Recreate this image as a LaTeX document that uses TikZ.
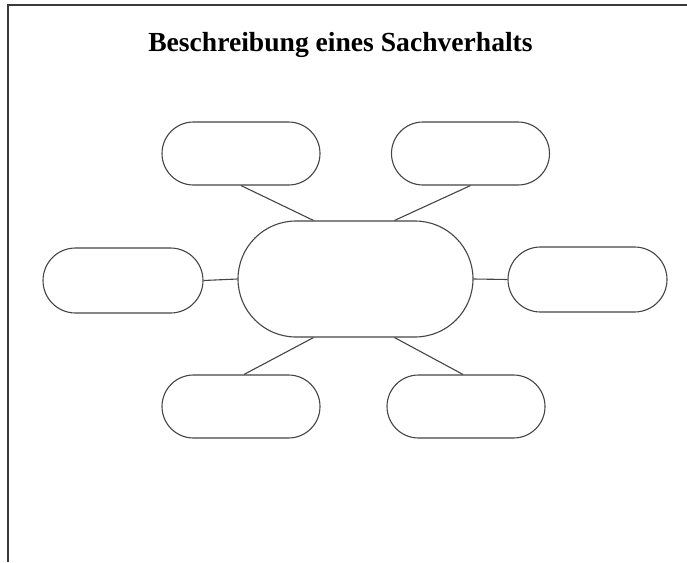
\documentclass[tikz,border=0pt]{standalone}
\usepackage{fontspec}
\setmainfont{Liberation Serif}
\definecolor{ink}{HTML}{444444}
\definecolor{framegray}{HTML}{3A3A3A}
\begin{document}
\begin{tikzpicture}[x=1pt, y=-1pt,
  bubble/.style={draw=ink, line width=1.1pt, rectangle, rounded corners=31.5pt,
    minimum width=158pt, minimum height=63pt, inner sep=0pt},
  hub/.style={draw=ink, line width=1.1pt, rectangle, rounded corners=58pt,
    minimum width=235pt, minimum height=116pt, inner sep=0pt},
  link/.style={draw=ink, line width=1.1pt}]
\useasboundingbox (0,0) rectangle (687,562);
\draw [framegray, line width=2pt] (687,5) -- (8,5) -- (8,562);
\node [anchor=base] (title) at (340.5,51)
  {\fontsize{27.6}{32}\selectfont\bfseries Beschreibung eines Sachverhalts};
\node [hub] (center) at (355.5,279) {};
\node [bubble] (topleft) at (241,153.5) {};
\node [bubble] (topright) at (470.5,153.5) {};
\node [bubble, minimum width=160pt, minimum height=65pt, rounded corners=32.5pt] (left) at (123,280.5) {};
\node [bubble, minimum width=159pt, minimum height=65pt, rounded corners=32.5pt] (right) at (587.5,279.5) {};
\node [bubble] (botleft) at (241,406.5) {};
\node [bubble] (botright) at (466,406.5) {};
\draw [link] (topleft.south) -- ([xshift=-42pt]center.north);
\draw [link] (topright.south) -- ([xshift=39pt]center.north);
\draw [link] (left.east) -- (center.west);
\draw [link] (center.east) -- (right.west);
\draw [link] ([xshift=3pt]botleft.north) -- ([xshift=-42pt]center.south);
\draw [link] ([xshift=-3pt]botright.north) -- ([xshift=39pt]center.south);
\end{tikzpicture}
\end{document}
